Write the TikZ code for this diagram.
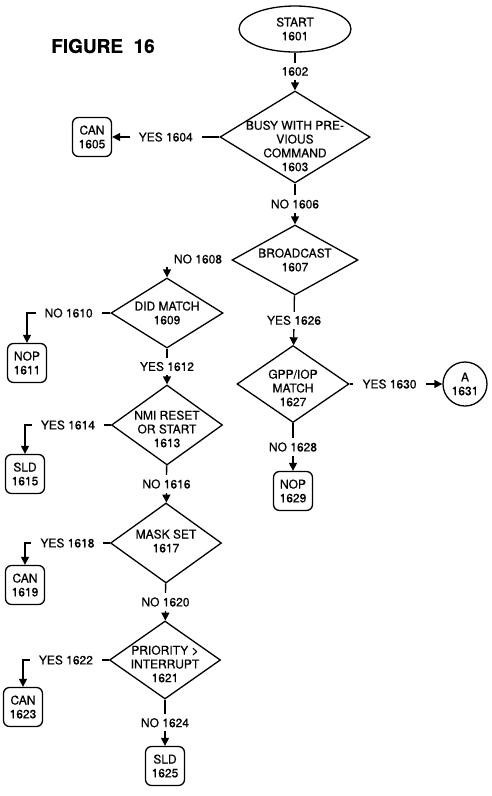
\documentclass[tikz,border=0pt]{standalone}
\usepackage{fontspec}
\setmainfont{TeX Gyre Heros}[FakeBold=0.5]
\usetikzlibrary{shapes.geometric,arrows.meta}
\tikzset{
  term/.style={ellipse, draw, line width=1.3pt, minimum width=112pt, minimum height=46pt, inner sep=0pt, align=center},
  decide/.style={diamond, draw, line width=1.3pt, inner sep=0pt},
  stopbox/.style={rectangle, rounded corners=6pt, draw, line width=1.3pt, minimum width=39pt, minimum height=39pt, inner sep=1pt, align=center},
  conn/.style={circle, draw, line width=1.3pt, minimum size=44pt, inner sep=0pt, align=center},
  lbl/.style={fill=white, inner xsep=9pt, inner ysep=4pt},
  flow/.style={line width=1.3pt, -{Triangle[length=8pt,width=8pt]}},
  every label/.style={align=center}
}
\begin{document}
\begin{tikzpicture}[x=1pt,y=-1pt,font=\fontsize{12}{13.8}\selectfont]
      \useasboundingbox (0,0) rectangle (492,796);
      \node[font=\bfseries\fontsize{19}{22}\selectfont] (fig) at (103,46) {FIGURE~~16};
      \node[term] (s1601) at (295,29) {START\\1601};
      \node[decide, minimum width=150pt, minimum height=92pt,
        label={[yshift=-9pt]center:BUSY WITH PRE-\\VIOUS\\COMMAND\\1603}] (d1603) at (295,137) {};
      \node[stopbox] (c1605) at (92,137) {CAN\\1605};
      \node[decide, minimum width=126pt, minimum height=70pt,
        label={center:BROADCAST\\1607}] (d1607) at (295,260) {};
      \node (l1608) at (198,259) {NO 1608};
      \node[decide, minimum width=112pt, minimum height=70pt,
        label={center:DID MATCH\\1609}] (d1609) at (167,313) {};
      \node[stopbox] (n1611) at (27,363) {NOP\\1611};
      \node[decide, minimum width=111pt, minimum height=80pt,
        label={[yshift=-4pt]center:NMI RESET\\OR START\\1613}] (d1613) at (167,425) {};
      \node[stopbox] (s1615) at (25,474) {SLD\\1615};
      \node[decide, minimum width=111pt, minimum height=80pt,
        label={[yshift=2pt]center:MASK SET\\1617}] (d1617) at (166,543) {};
      \node[stopbox] (c1619) at (25,585) {CAN\\1619};
      \node[decide, minimum width=111pt, minimum height=78pt,
        label={[yshift=-4pt]center:PRIORITY >\\INTERRUPT\\1621}] (d1621) at (165,660) {};
      \node[stopbox] (c1623) at (23,707) {CAN\\1623};
      \node[stopbox] (s1625) at (165,766) {SLD\\1625};
      \node[decide, minimum width=112pt, minimum height=77pt,
        label={[yshift=-4pt]center:GPP/IOP\\MATCH\\1627}] (d1627) at (293,384) {};
      \node[conn] (a1631) at (465,384) {A\\1631};
      \node[stopbox] (n1629) at (293,491) {NOP\\1629};
      \begin{scope}[flow]
        \draw (s1601) to node[lbl]{1602} (d1603);
        \draw (d1603) to node[lbl]{YES 1604} (c1605);
        \draw (d1603) to node[lbl]{NO 1606} (d1607);
        \draw (l1608.south -| d1609.north) to (d1609.north);
        \draw (d1609.west) -| node[lbl, pos=0.25]{NO 1610} (n1611.north);
        \draw (d1609) to node[lbl]{YES 1612} (d1613);
        \draw (d1613.west) -| node[lbl, pos=0.25]{YES 1614} (s1615.north);
        \draw (d1613) to node[lbl]{NO 1616} (d1617);
        \draw (d1617.west) -| node[lbl, pos=0.25]{YES 1618} (c1619.north);
        \draw (d1617) to node[lbl]{NO 1620} (d1621);
        \draw (d1621.west) -| node[lbl, pos=0.25]{YES 1622} (c1623.north);
        \draw (d1621) to node[lbl]{NO 1624} (s1625);
        \draw (d1607) to node[lbl]{YES 1626} (d1627);
        \draw (d1627) to node[lbl]{NO 1628} (n1629);
        \draw (d1627) to node[lbl, pos=0.43]{YES 1630} (a1631);
      \end{scope}
    \end{tikzpicture}
\end{document}
